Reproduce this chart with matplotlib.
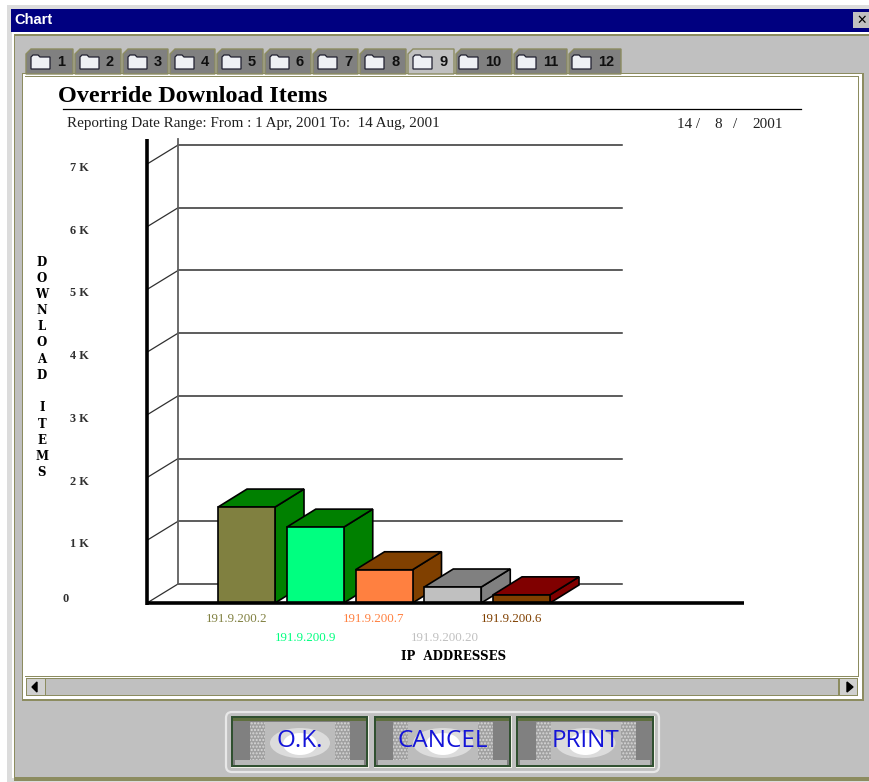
import matplotlib
matplotlib.use("Agg")
import matplotlib.pyplot as plt
from matplotlib.patches import Rectangle, Polygon, FancyBboxPatch, Ellipse

W, H = 869, 782

# chart values
ip_labels = ["191.9.200.2", "191.9.200.9", "191.9.200.7", "191.9.200.20", "191.9.200.6"]
downloads = [1530, 1210, 530, 255, 130]
front_colors = ["#808040", "#00ff80", "#ff8040", "#c0c0c0", "#804000"]
side_colors = ["#008000", "#008000", "#804000", "#808080", "#800000"]
label_colors = ["#808040", "#00ff80", "#ff8040", "#c0c0c0", "#804000"]
y_ticks = [1000, 2000, 3000, 4000, 5000, 6000, 7000]
y_tick_labels = ["1 K", "2 K", "3 K", "4 K", "5 K", "6 K", "7 K"]
tab_labels = ["1", "2", "3", "4", "5", "6", "7", "8", "9", "10", "11", "12"]
tab_edges = [25, 74, 122, 169, 216, 264, 312, 359, 407, 455, 513, 568, 622]
y_title_letters = list("DOWNLOAD") + [""] + list("ITEMS")
button_labels = ["O.K.", "CANCEL", "PRINT"]
button_edges = [(231, 369), (374, 512), (516, 655)]

GRAY = "#c0c0c0"
OLIVE = "#8c8c60"

fig = plt.figure(figsize=(W / 100, H / 100), dpi=100, facecolor="white")

# window chrome, in pixels
bg = fig.add_axes([0, 0, 1, 1])
bg.set_xlim(0, W)
bg.set_ylim(H, 0)
bg.axis("off")


def box(x0, y0, x1, y1, color, z=1, **kw):
    bg.add_patch(Rectangle((x0, y0), x1 - x0, y1 - y0, facecolor=color, edgecolor="none", zorder=z, **kw))


box(7, 5, W, H, "#dcdcdc")
box(12, 9, W, 778, "white")
box(14, 34, W, 781, OLIVE)
box(15, 36, W, 777, GRAY)
box(11, 9, W, 32, "#000080")
bg.text(14, 20.5, "Chart", color="white", fontsize=10.5, fontweight="bold", family="Liberation Sans", va="center", zorder=3)
box(853, 12, W, 28, GRAY, z=3)
bg.text(861.5, 20, "✕", color="black", fontsize=9, fontweight="bold", ha="center", va="center", zorder=4)

# white panel
box(22, 73, 864, 701, OLIVE, z=2)
box(23, 74, 862, 699, "white", z=2)
box(25, 76, 859, 677, OLIVE, z=2)
box(25, 77, 858, 676, "white", z=2)

# scrollbar
box(26, 678, 858, 696, OLIVE, z=2)
box(46, 679, 838, 695, GRAY, z=2)
for bx0, bx1 in [(27, 45), (840, 857)]:
    box(bx0, 679, bx1, 695, "#d0d0d0", z=2)
bg.add_patch(Polygon([(32, 687), (37, 682), (37, 692)], color="black", zorder=3))
bg.add_patch(Polygon([(853, 687), (847, 682), (847, 692)], color="black", zorder=3))

# tabs
for i, lab in enumerate(tab_labels):
    x0, x1 = tab_edges[i], tab_edges[i + 1]
    active = lab == "9"
    top = 49
    pts = [(x0 + 1, 74), (x0 + 1, top + 5), (x0 + 6, top), (x1 - 1, top), (x1 - 1, 74)]
    bg.add_patch(Polygon(pts, closed=True, facecolor=GRAY if active else "#808080", edgecolor=OLIVE, lw=1, zorder=3))
    # folder icon
    fx = x0 + (6 if len(lab) == 1 else 4)
    bg.add_patch(Polygon([(fx, 69), (fx, 57), (fx + 2, 55), (fx + 7, 55), (fx + 9, 57), (fx + 19, 57), (fx + 19, 69)],
                         closed=True, facecolor="#eef0f4", edgecolor="#202030", lw=0.9, zorder=4))
    bg.text(fx + 26, 62, lab, fontsize=10.5, fontweight="bold", family="Liberation Sans", color="#101010",
            va="center", zorder=4)

# header text
bg.text(58, 97, "Override Download Items", fontsize=17.5, fontweight="bold", family="Liberation Serif", va="center", zorder=5)
bg.plot([63, 801], [109, 109], color="black", lw=0.9, zorder=5)
bg.text(67, 124, "Reporting Date Range: From : 1 Apr, 2001 To:  14 Aug, 2001", fontsize=10.9, family="Liberation Serif",
        color="#202020", va="center", zorder=5)
for dx, part in zip([677, 714, 733, 752], ["14 /", "8", "/", "2001"]):
    bg.text(dx, 124, part, fontsize=10.9, family="Liberation Serif", color="#202020", va="center", zorder=5)

# axis titles
for n, ch in enumerate(y_title_letters):
    bg.text(42, 262 + n * 16.2, ch, fontsize=8.5, fontweight="bold", family="DejaVu Serif", ha="center", va="center", zorder=5)
bg.text(453.5, 656, "IP  ADDRESSES", fontsize=8.5, fontweight="bold", family="DejaVu Serif", ha="center", va="center", zorder=5)

# buttons
bg.add_patch(FancyBboxPatch((226, 712), 433, 60, boxstyle="round,pad=0,rounding_size=6", facecolor=GRAY,
                            edgecolor="#e8e8e8", lw=1.6, zorder=3))
for (x0, x1), lab in zip(button_edges, button_labels):
    box(x0, 716, x1, 768, "#f0f0e8", z=4)
    box(x0, 716, x1 - 1, 767, "#305030", z=4)
    box(x0 + 2, 718, x1 - 3, 765, "#808080", z=4)
    box(x0 + 2, 718, x1 - 3, 721, "#5e6e3e", z=4)
    box(x0 + 4, 760, x1 - 5, 765, "#b8b8b8", z=4)
    mid = (x0 + x1) / 2
    bg.add_patch(Rectangle((mid - 50, 722), 100, 38, facecolor="#a0a0a0", edgecolor="#d8d8d8", hatch=".....", lw=0, zorder=4))
    box(mid - 35, 722, mid + 35, 760, "#bcbcbc", z=4)
    bg.add_patch(Ellipse((mid, 743), 60, 30, facecolor="#dcdcdc", edgecolor="none", zorder=4))
    bg.add_patch(Ellipse((mid, 744), 34, 22, facecolor="white", edgecolor="none", zorder=4))
    bg.text(mid, 741, lab, fontsize=17.5, color="#1414d8", family="Open Sans", ha="center", va="center", zorder=5)

# chart area: x in bar positions, y in download items
PX_X = 68.75
PX_Y = 62.7
ax = fig.add_axes([147 / W, 1 - 603 / H, (744 - 147) / W, (603 - 144) / H])
ax.set_xlim((147 - 246.5) / PX_X, (744 - 246.5) / PX_X)
ax.set_ylim(0, (603 - 144) / PX_Y * 1000)
ax.patch.set_alpha(0)
ax.axis("off")

# depth of the floor and of the bars
wall_dx, wall_dy = 31 / PX_X, 19 / PX_Y * 1000
bar_dx, bar_dy = 29 / PX_X, 18 / PX_Y * 1000
bar_w = 57 / PX_X
x_left = ax.get_xlim()[0]
wall_right = x_left + (622 - 147) / PX_X

for v in [0] + y_ticks:
    ax.plot([x_left, x_left + wall_dx], [v, v + wall_dy], color="#303030", lw=0.9, clip_on=False, zorder=1)
    ax.plot([x_left + wall_dx, wall_right], [v + wall_dy, v + wall_dy], color="#303030", lw=1.1, clip_on=False, zorder=1)
ax.plot([x_left + wall_dx] * 2, [0 + wall_dy, 7000 + wall_dy + 100], color="#606060", lw=1.3, clip_on=False, zorder=1)

for i, v in enumerate(downloads):
    l, r = i - bar_w / 2, i + bar_w / 2
    z = 2 + i
    ax.add_patch(Polygon([(r, 0), (r + bar_dx, bar_dy), (r + bar_dx, v + bar_dy), (r, v)], closed=True,
                         facecolor=side_colors[i], edgecolor="black", lw=1.2, clip_on=False, zorder=z))
    ax.add_patch(Polygon([(l, v), (l + bar_dx, v + bar_dy), (r + bar_dx, v + bar_dy), (r, v)], closed=True,
                         facecolor=side_colors[i], edgecolor="black", lw=1.2, clip_on=False, zorder=z))
    ax.bar(i, v, width=bar_w, color=front_colors[i], edgecolor="black", lw=1.2, clip_on=False, zorder=z)
    # two rows of labels, every second one lower
    row = 16.5 if i % 2 == 0 else 35
    shift = -8 if i == 3 else -10
    ax.annotate(ip_labels[i], xy=(i, 0), xytext=(shift * 0.72, -row * 0.72), textcoords="offset points",
                ha="center", va="center", color=label_colors[i], fontsize=9.4, family="Liberation Serif",
                annotation_clip=False)

ax.plot([x_left, x_left], [-30, 7000 + wall_dy + 100], color="black", lw=2.6, clip_on=False, zorder=10,
        solid_capstyle="butt")
ax.plot([x_left, ax.get_xlim()[1]], [0, 0], color="black", lw=2.6, clip_on=False, zorder=10, solid_capstyle="butt")

for v, lab in zip(y_ticks, y_tick_labels):
    ax.annotate(lab, xy=(0, v), xycoords=ax.get_yaxis_transform(), xytext=(-58 * 0.72, -4 * 0.72),
                textcoords="offset points", ha="right", va="center", fontsize=8.8, fontweight="bold",
                family="Liberation Serif", color="#303030", annotation_clip=False)
ax.annotate("0", xy=(0, 0), xycoords=ax.get_yaxis_transform(), xytext=(-81 * 0.72, 4.5 * 0.72),
            textcoords="offset points", ha="center", va="center", fontsize=8.8, fontweight="bold",
            family="Liberation Serif", color="#303030", annotation_clip=False)

fig.savefig("out.png", dpi=100)
